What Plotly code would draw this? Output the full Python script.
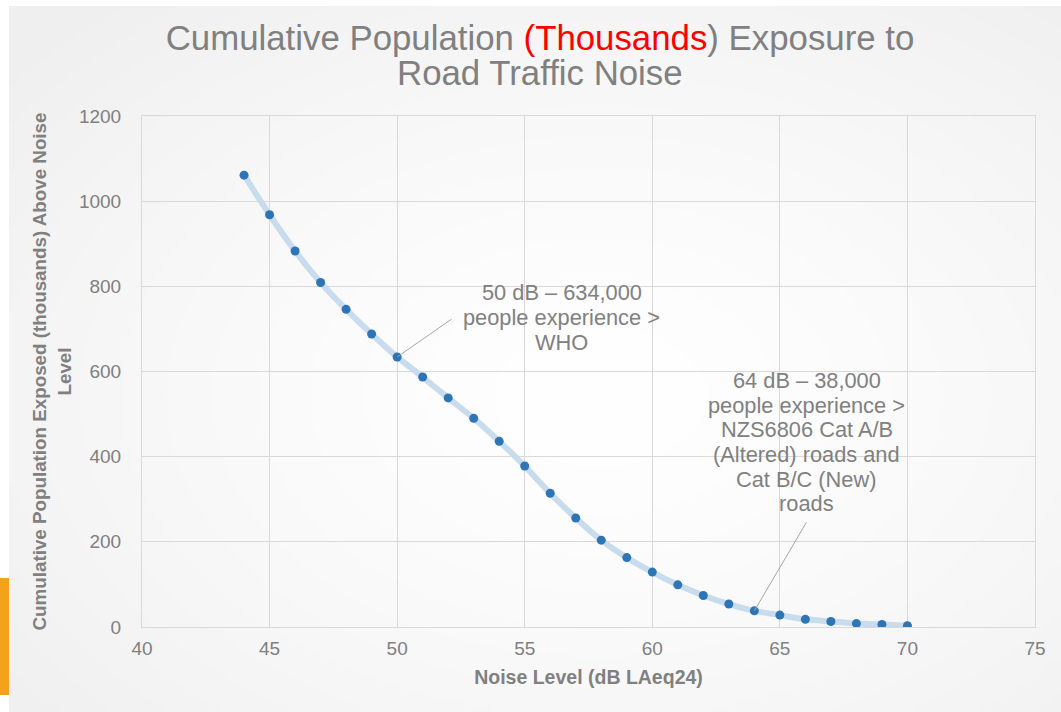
import base64
import struct
import zlib

import numpy as np
import plotly.graph_objects as go

# ---------------- data ----------------
noise_db = [44, 45, 46, 47, 48, 49, 50, 51, 52, 53, 54, 55, 56, 57,
            58, 59, 60, 61, 62, 63, 64, 65, 66, 67, 68, 69, 70]
pop_thousands = [1061, 968, 883, 809, 746, 688, 634, 587, 538, 490, 436, 378, 314, 256,
                 204, 163, 129, 99, 74, 54, 38, 28, 18, 13, 8, 6, 3]

x_ticks = [40, 45, 50, 55, 60, 65, 70, 75]
y_ticks = [0, 200, 400, 600, 800, 1000, 1200]

title_line1 = ('Cumulative Population <span style="color:#FF0000">(Thousands</span>) '
               'Exposure to')
title_line2 = 'Road Traffic Noise'
x_title = 'Noise Level (dB LAeq24)'
y_title = 'Cumulative Population Exposed (thousands) Above Noise<br>Level'

note1_point = (50, 634)
note1_lines = ['50 dB – 634,000', 'people experience >', 'WHO']
note1_pos = (56.46, 785)
note2_point = (64, 38)
note2_lines = ['64 dB – 38,000', 'people experience >', 'NZS6806 Cat A/B',
               '(Altered) roads and', 'Cat B/C (New)', 'roads']
note2_pos = (66.05, 579)

GREY = '#808080'
FONT = 'Liberation Sans, Arial, sans-serif'


# ---------------- background gradient image ----------------
def gradient_png(w, h):
    yy, xx = np.mgrid[0:h, 0:w].astype(float)
    cx, cy = w * 0.56, h * 0.55
    r = np.sqrt(((xx - cx) / w) ** 2 + ((yy - cy) / h) ** 2) / 0.75
    v = 255 - 16 * np.clip(r, 0, 1) ** 1.4
    img = np.clip(v, 0, 255).astype(np.uint8)
    rgb = np.stack([img, img, img], axis=-1)
    raw = b''.join(b'\x00' + rgb[i].tobytes() for i in range(h))

    def chunk(t, d):
        c = struct.pack('>I', len(d)) + t + d
        return c + struct.pack('>I', zlib.crc32(t + d) & 0xffffffff)

    png = b'\x89PNG\r\n\x1a\n'
    png += chunk(b'IHDR', struct.pack('>IIBBBBB', w, h, 8, 2, 0, 0, 0))
    png += chunk(b'IDAT', zlib.compress(raw, 9))
    png += chunk(b'IEND', b'')
    return 'data:image/png;base64,' + base64.b64encode(png).decode()


W, H = 1061, 712
ML, MR, MT, MB = 142, 26, 116, 85
PW, PH = W - ML - MR, H - MT - MB


def px_to_paper_x(px):
    return (px - ML) / PW


def py_to_paper_y(py):
    return (H - MB - py) / PH


fig = go.Figure()

fig.add_trace(go.Scatter(
    x=noise_db, y=pop_thousands, mode='lines+markers',
    line=dict(color='#c8dcee', width=6, shape='spline', smoothing=0.6),
    marker=dict(color='#2e75b6', size=9),
    showlegend=False, hoverinfo='x+y'))

annotations = []
LINE_H = 24.7
for lines, pos, pt, (ax, ay) in [
        (note1_lines, note1_pos, note1_point, (56, -39)),
        (note2_lines, note2_pos, note2_point, (53, -90))]:
    for i, ln in enumerate(lines):
        annotations.append(dict(
            x=pos[0], y=pos[1], xref='x', yref='y', text=ln, showarrow=False,
            yshift=-LINE_H * i, font=dict(family=FONT, size=21.8, color=GREY),
            xanchor='center', yanchor='middle'))
    annotations.append(dict(
        x=pt[0], y=pt[1], xref='x', yref='y', text='', showarrow=True,
        arrowhead=0, arrowwidth=1, arrowcolor='#a6a6a6', ax=ax, ay=ay,
        standoff=0, startstandoff=0))

annotations.append(dict(
    x=px_to_paper_x(540), y=py_to_paper_y(73), xref='paper', yref='paper',
    text=title_line2, showarrow=False, xanchor='center', yanchor='middle',
    font=dict(family=FONT, size=34.8, color=GREY)))

fig.update_layout(
    width=W, height=H,
    margin=dict(l=ML, r=MR, t=MT, b=MB, autoexpand=False),
    paper_bgcolor='#ffffff',
    plot_bgcolor='rgba(0,0,0,0)',
    title=dict(text=title_line1, x=540 / W, xanchor='center',
               y=1 - 38 / H, yanchor='middle', yref='container',
               font=dict(family=FONT, size=34.8, color=GREY)),
    font=dict(family=FONT, color=GREY),
    xaxis=dict(range=[40, 75], tickvals=x_ticks, ticktext=[str(v) for v in x_ticks],
               showgrid=True, gridcolor='#d9d9d9', gridwidth=1,
               showline=True, mirror=True, linecolor='#d9d9d9', linewidth=1,
               zeroline=False, ticks='', ticklabelstandoff=4,
               tickfont=dict(family=FONT, size=19, color=GREY),
               title=dict(text=x_title, standoff=12,
                          font=dict(family=FONT, size=19.5, color=GREY, weight='bold'))),
    yaxis=dict(range=[0, 1200], tickvals=y_ticks, ticktext=[str(v) for v in y_ticks],
               showgrid=True, gridcolor='#d9d9d9', gridwidth=1,
               showline=True, mirror=True, linecolor='#d9d9d9', linewidth=1,
               zeroline=False, ticks='', ticklabelstandoff=16,
               tickfont=dict(family=FONT, size=19, color=GREY),
               title=dict(text=y_title, standoff=2,
                          font=dict(family=FONT, size=18.8, color=GREY, weight='bold'))),
    annotations=annotations,
    images=[dict(source=gradient_png(263, 177), xref='paper', yref='paper',
                 x=px_to_paper_x(9), y=py_to_paper_y(6),
                 sizex=(W - 9) / PW, sizey=(H - 6) / PH,
                 xanchor='left', yanchor='top', sizing='stretch', layer='below')],
    shapes=[dict(type='rect', xref='paper', yref='paper',
                 x0=px_to_paper_x(0), x1=px_to_paper_x(9),
                 y0=py_to_paper_y(695), y1=py_to_paper_y(578),
                 fillcolor='#F5A11C', line=dict(width=0), layer='above')],
)

fig.write_html('out.html', config={'displayModeBar': False},
               post_script="document.body.style.margin='0';document.body.style.overflow='hidden';")
